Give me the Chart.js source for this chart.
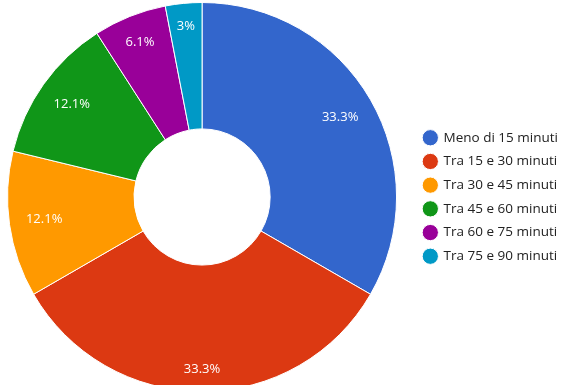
<!DOCTYPE html>
<html><head><meta charset="utf-8">
<script src="https://cdn.jsdelivr.net/npm/chart.js@4/dist/chart.umd.min.js"></script>
<style>
html,body{margin:0;padding:0;background:#fff;overflow:hidden;width:562px;height:385px}
#c{display:block;margin-left:-10px}
</style></head>
<body><canvas id="c"></canvas>
<script>
const categories = ['Meno di 15 minuti','Tra 15 e 30 minuti','Tra 30 e 45 minuti','Tra 45 e 60 minuti','Tra 60 e 75 minuti','Tra 75 e 90 minuti'];
const counts = [11, 11, 4, 4, 2, 1];
const colors = ['#3366cc','#dc3912','#ff9900','#109618','#990099','#0099c6'];

const FONT_FAMILY = '"Open Sans", "Noto Sans", sans-serif';
const LABEL_SIZE = 13;
const LEGEND_SIZE = 13.5;
const total = counts.reduce((a,b)=>a+b,0);
const pctText = v => (Math.round(v/total*1000)/10) + '%';

// size canvas so legend sits where it should
const mctx = document.createElement('canvas').getContext('2d');
mctx.font = LEGEND_SIZE + 'px ' + FONT_FAMILY;
const tw = Math.max(...categories.map(t => mctx.measureText(t).width));
const cv = document.getElementById('c');
const CW = Math.ceil(10 + 413.5 + 10 + 13 + LEGEND_SIZE/2 + tw + 10);
cv.width = CW; cv.height = 394;
cv.style.width = CW + 'px'; cv.style.height = '394px';

const sliceLabels = {
  id: 'sliceLabels',
  afterDatasetsDraw(chart) {
    const ctx = chart.ctx;
    const meta = chart.getDatasetMeta(0);
    ctx.save();
    ctx.font = LABEL_SIZE + 'px ' + FONT_FAMILY;
    ctx.fillStyle = '#ffffff';
    ctx.textAlign = 'center';
    ctx.textBaseline = 'middle';
    meta.data.forEach((arc, i) => {
      const p = arc.getProps(['x','y','startAngle','endAngle','outerRadius'], true);
      const mid = (p.startAngle + p.endAngle) / 2;
      const ux = Math.cos(mid), uy = Math.sin(mid);
      const txt = pctText(counts[i]);
      const w = ctx.measureText(txt).width, h = 13;
      const ext = Math.abs(ux) * w / 2 + Math.abs(uy) * h / 2;
      const r = p.outerRadius - 16 - ext;
      ctx.fillText(txt, p.x + ux * r, p.y + uy * r);
    });
    ctx.restore();
  }
};

new Chart(cv, {
  type: 'doughnut',
  data: {
    labels: categories,
    datasets: [{
      data: counts,
      backgroundColor: colors,
      borderColor: '#ffffff',
      borderWidth: 1,
      hoverOffset: 0
    }]
  },
  options: {
    responsive: false,
    animation: false,
    devicePixelRatio: 1,
    cutout: '35%',
    layout: { padding: { left: 0.5, top: 2, bottom: 2, right: 0 } },
    plugins: {
      tooltip: { enabled: false },
      legend: {
        position: 'right',
        labels: {
          usePointStyle: true,
          pointStyle: 'circle',
          boxWidth: 13,
          boxHeight: 11.5,
          padding: 10.2,
          color: '#222222',
          font: { family: FONT_FAMILY, size: LEGEND_SIZE }
        }
      }
    }
  },
  plugins: [sliceLabels]
});
</script>
</body></html>
